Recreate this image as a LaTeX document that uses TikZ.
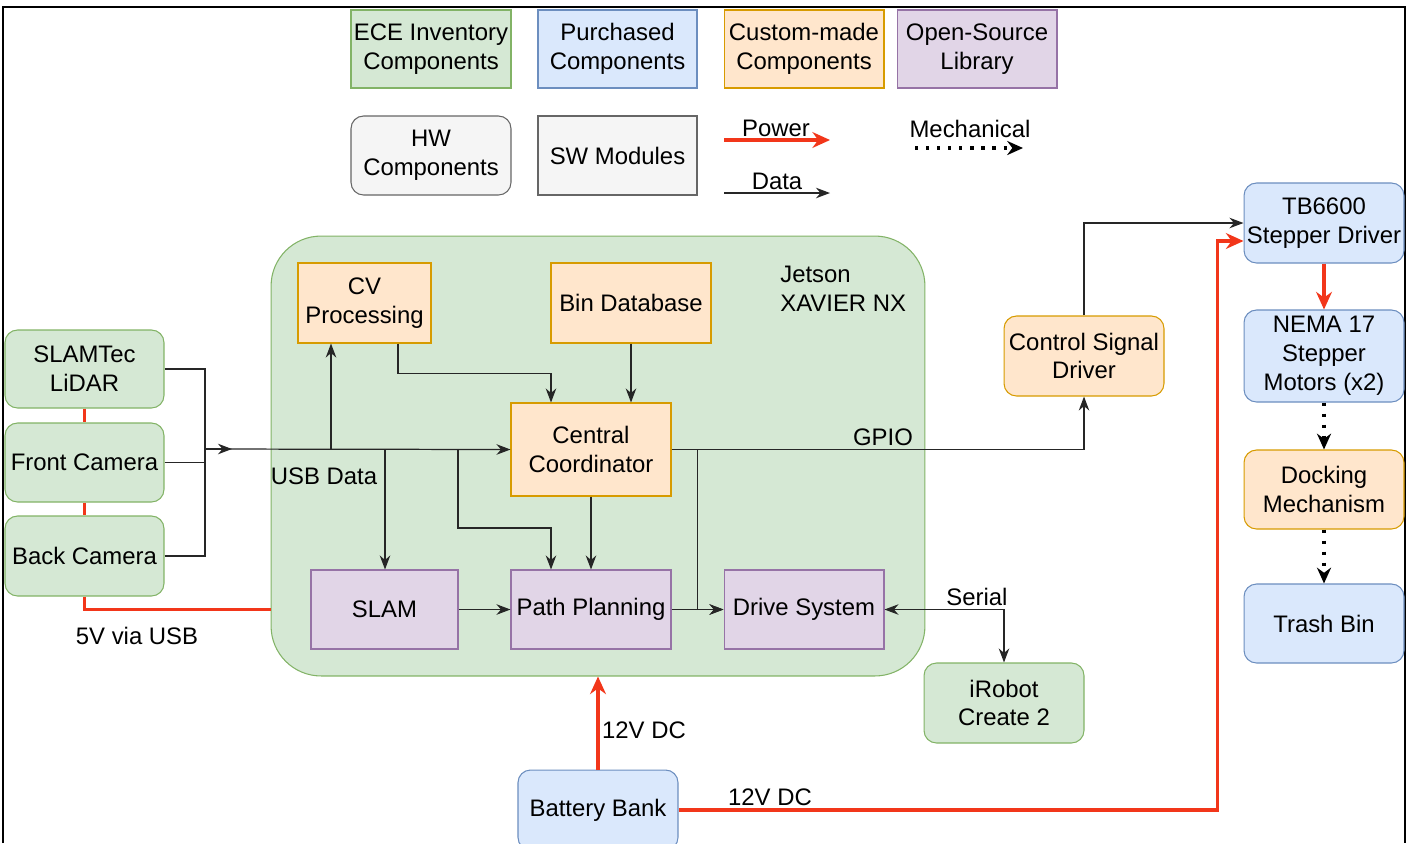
\documentclass[tikz,border=0pt]{standalone}
\usepackage{fontspec}
\setmainfont{Liberation Sans}
\usetikzlibrary{arrows.meta,calc}
\definecolor{gfill}{HTML}{D5E8D4}\definecolor{gline}{HTML}{82B366}
\definecolor{bfill}{HTML}{DAE8FC}\definecolor{bline}{HTML}{6C8EBF}
\definecolor{ofill}{HTML}{FFE6CC}\definecolor{oline}{HTML}{D79B00}
\definecolor{pfill}{HTML}{E1D5E7}\definecolor{pline}{HTML}{9673A6}
\definecolor{kfill}{HTML}{F5F5F5}\definecolor{kline}{HTML}{666666}
\definecolor{pwrred}{HTML}{F2361A}
\newcommand{\dfont}{\fontsize{13.6}{16.4}\selectfont}
\begin{document}
\begin{tikzpicture}[x=0.02cm,y=-0.02cm,
  box/.style={draw,rectangle,minimum width=3.2cm,minimum height=1.6cm,align=center,inner sep=1pt,font=\dfont,line width=0.6pt},
  hw/.style={box,rounded corners=0.25cm},
  inv/.style={fill=gfill,draw=gline},
  pur/.style={fill=bfill,draw=bline},
  cus/.style={fill=ofill,draw=oline},
  oss/.style={fill=pfill,draw=pline},
  leg/.style={fill=kfill,draw=kline},
  lbl/.style={font=\dfont,inner sep=0pt},
  dat/.style={-{Stealth[length=8pt,width=6pt]},line width=0.7pt,draw=black!85},
  pwr/.style={-{Stealth[length=10pt,width=9pt]},line width=1.8pt,draw=pwrred},
  mech/.style={-{Stealth[length=9pt,width=8pt]},line width=1.8pt,dash pattern=on 1.8pt off 4.5pt}]
\useasboundingbox (0,0) rectangle (1412,843);
\draw[line width=1.2pt] (3,843) -- (3,7) -- (1405,7) -- (1405,843);

% legend
\node[box,inv,minimum height=1.56cm] (leginv) at (431,49) {ECE Inventory\\Components};
\node[box,pur,minimum width=3.18cm,minimum height=1.56cm] (legpur) at (617.5,49) {Purchased\\Components};
\node[box,cus,minimum height=1.56cm] (legcus) at (804,49) {Custom-made\\Components};
\node[box,oss,minimum height=1.56cm] (legoss) at (977,49) {Open-Source\\Library};
\node[hw,leg,minimum height=1.58cm] (leghw) at (431,155.5) {HW\\Components};
\node[box,leg,minimum width=3.18cm,minimum height=1.58cm] (legsw) at (617.5,155.5) {SW Modules};
\coordinate (pwa) at (724,140); \coordinate (pwb) at (830,140);
\coordinate (mea) at (915,148); \coordinate (meb) at (1023,148);
\coordinate (daa) at (724,193); \coordinate (dab) at (830,193);
\draw[pwr] (pwa) -- (pwb);
\draw[mech] (mea) -- (meb);
\draw[dat] (daa) -- (dab);
\node[lbl] (lblpow) at (776,128) {Power};
\node[lbl] (lblmech) at (970,129) {Mechanical};
\node[lbl] (lbldat) at (777,181) {Data};

% jetson
\node[draw=gline,fill=gfill,rounded corners=1cm,minimum width=13.08cm,minimum height=8.8cm,line width=0.6pt] (jet) at (598,456) {};
\node[lbl,anchor=west,align=left] (lbljet) at (780,289) {Jetson\\XAVIER NX};
\node[box,cus,minimum width=2.66cm] (cv) at (364.5,303) {CV\\Processing};
\node[box,cus] (bindb) at (631,303) {Bin Database};
\node[box,cus,minimum height=1.86cm] (cc) at (591,449.5) {Central\\Coordinator};
\node[box,oss,minimum width=2.94cm,minimum height=1.58cm] (slam) at (384.5,609.5) {SLAM};
\node[box,oss,minimum height=1.58cm] (pp) at (591,609.5) {Path Planning};
\node[box,oss,minimum height=1.58cm] (drive) at (804,609.5) {Drive System};

% sensors
\node[hw,inv,minimum width=3.18cm,minimum height=1.56cm] (lidar) at (84.5,369) {SLAMTec\\LiDAR};
\node[hw,inv,minimum width=3.18cm,minimum height=1.58cm] (front) at (84.5,462.5) {Front Camera};
\node[hw,inv,minimum width=3.18cm,minimum height=1.6cm] (back) at (84.5,556) {Back Camera};

% outside
\node[hw,cus] (csd) at (1084,356) {Control Signal\\Driver};
\node[hw,pur] (tb) at (1324,223) {TB6600\\Stepper Driver};
\node[hw,pur,minimum height=1.84cm] (nema) at (1324,356) {NEMA 17\\Stepper\\Motors (x2)};
\node[hw,cus,minimum height=1.58cm] (dock) at (1324,489.5) {Docking\\Mechanism};
\node[hw,pur,minimum height=1.58cm] (trash) at (1324,623.5) {Trash Bin};
\node[hw,inv] (irobot) at (1004,703) {iRobot\\Create 2};
\node[hw,pur] (bat) at (598,810) {Battery Bank};

% power
\draw[pwr,-] (lidar) -- (front);
\draw[pwr,-] (front) -- (back);
\draw[pwr,-] (back.south) |- (jet.west |- slam.center);
\node[lbl] (lbl5v) at (137,636) {5V via USB};
\draw[pwr] (bat) -- (bat |- jet.south);
\node[lbl] (lbl12a) at (644,730) {12V DC};
\draw[pwr] (bat.east) -| ($(tb.west)+(-26,18)$) -- ($(tb.west)+(0,18)$);
\node[lbl] (lbl12b) at (770,797) {12V DC};
\draw[pwr] (tb) -- (nema);

% mechanical
\draw[mech] (nema) -- (dock);
\draw[mech] (dock) -- (trash);

% data
\coordinate (bus) at (205,449);
\coordinate (b1) at (331,449);
\coordinate (b2) at (385,449);
\coordinate (b3) at (458,449);
\draw[dat,-] (lidar.east) -| (bus);
\draw[dat,-] (back.east) -| (bus);
\draw[dat,-] (front.east) -- (front.east -| bus);
\draw[dat] (bus) -- ++(27,0);
\draw[dat] (bus) -- (cc.west);
\node[lbl] (lblusb) at (324,476) {USB Data};
\draw[dat] (b1) -- (b1 |- cv.south);
\draw[dat] (b2) -- (b2 |- slam.north);
\draw[dat] (b3) -- ++(0,79) -| ($(pp.north)+(-40,0)$);
\draw[dat] ($(cv.south)+(33.5,0)$) -- ++(0,30) -| ($(cc.north)+(-40,0)$);
\draw[dat] (bindb.south) -- (bindb.south |- cc.north);
\draw[dat] (cc) -- (pp);
\draw[dat] (slam) -- (pp);
\draw[dat] (pp) -- (drive);
\draw[dat] ($(cc.east)+(26,0)$) |- (drive.west);
\draw[dat] (cc.east) -| (csd.south);
\node[lbl] (lblgpio) at (883,437) {GPIO};
\draw[dat,{Stealth[length=8pt,width=6pt]}-{Stealth[length=8pt,width=6pt]}] (drive.east) -| (irobot.north);
\node[lbl] (lblser) at (977,597) {Serial};
\draw[dat] (csd.north) |- (tb.west);
\end{tikzpicture}
\end{document}
